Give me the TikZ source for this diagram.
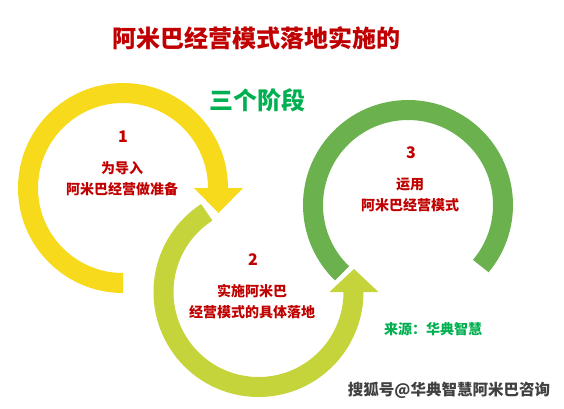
\documentclass[tikz,border=0pt]{standalone}
\usepackage{fontspec}
\setmainfont{Noto Sans CJK SC}
\definecolor{ringyellow}{HTML}{F7DA1C}
\definecolor{ringlime}{HTML}{C5D43B}
\definecolor{ringgreen}{HTML}{6BB24E}
\definecolor{textred}{HTML}{C00000}
\definecolor{textgreen}{HTML}{00B050}
\tikzstyle{ring}=[line width=20pt]
\tikzstyle{title}=[font=\bfseries\fontsize{24}{28}\selectfont]
\tikzstyle{stage}=[text=textred,font=\bfseries\fontsize{14}{21}\selectfont,align=center]
\tikzstyle{num}=[text=textred,font=\bfseries\fontsize{16}{16}\selectfont]

\begin{document}
\begin{tikzpicture}[x=1pt,y=1pt]
  \useasboundingbox (0,0) rectangle (564,-408);
  \coordinate (c1) at (123,-188);
  \coordinate (c2) at (258.5,-292);
  \coordinate (c3) at (408,-205);
  % rings
  \draw[ring,ringgreen] (c3) ++(-40:95pt) arc[start angle=-40,end angle=226,radius=95pt];
  \draw[ring,ringlime] (c2) ++(123:95pt) arc[start angle=123,end angle=360,radius=95pt];
  \fill[ringlime] (c2) ++(71,0) -- ++(49,0) -- ++(-24.5,23) -- cycle;
  \draw[ring,ringyellow] (c1) ++(270:95pt) arc[start angle=270,end angle=0,radius=95pt];
  \fill[ringyellow] (c1) ++(71,0) -- ++(49,0) -- ++(-24.5,-25) -- cycle;
  % texts
  \node[title,text=textred] (t) at (256,-38) {阿米巴经营模式落地实施的};
  \node[title,text=textgreen] (st) at (257,-100) {三个阶段};
  \node[num] (n1) at (123,-137) {1};
  \node[stage] (s1) at (122,-178.5) {为导入\\阿米巴经营做准备};
  \node[num] (n2) at (253,-260) {2};
  \node[stage] (s2) at (252,-302) {实施阿米巴\\经营模式的具体落地};
  \node[num] (n3) at (411,-153) {3};
  \node[stage] (s3) at (410,-194.5) {运用\\阿米巴经营模式};
  \node[stage,text=textgreen] (src) at (433,-329) {来源：华典智慧};
  \node[text=black!75,font=\bfseries\fontsize{15.5}{18}\selectfont] (wm) at (449,-390) {搜狐号@华典智慧阿米巴咨询};
\end{tikzpicture}
\end{document}
